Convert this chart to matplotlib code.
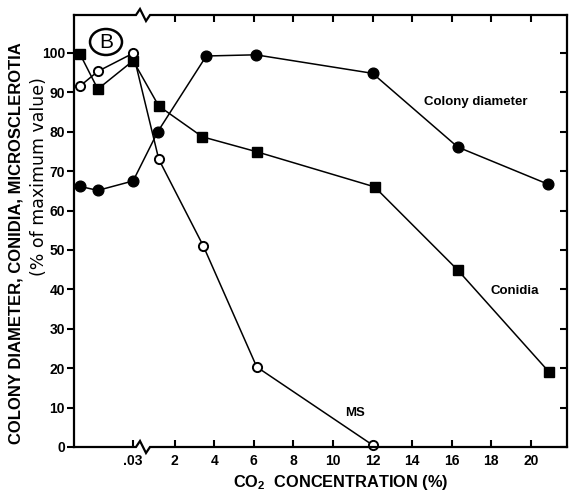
import numpy as np
import matplotlib
matplotlib.use('Agg')
import matplotlib.pyplot as plt
from matplotlib.patches import Ellipse

plt.rcParams['font.family'] = ['Liberation Sans', 'DejaVu Sans']
plt.rcParams['mathtext.fontset'] = 'custom'
plt.rcParams['mathtext.rm'] = 'Liberation Sans:bold'
plt.rcParams['mathtext.bf'] = 'Liberation Sans:bold'

# CO2 concentration (%) and responses (% of maximum value)
co2_colony = [0, 0.01, 0.03, 1.15, 3.6, 6.1, 12, 16.3, 20.85]
colony = [66.1, 65.1, 67.5, 80.0, 99.2, 99.5, 94.8, 76.1, 66.7]

co2_conidia = [0, 0.01, 0.03, 1.2, 3.4, 6.15, 12.1, 16.3, 20.9]
conidia = [99.6, 90.8, 98.0, 86.5, 78.7, 74.9, 66.0, 44.9, 19.1]

co2_ms = [0, 0.01, 0.03, 1.2, 3.45, 6.15, 12]
ms = [91.6, 95.3, 99.9, 73.0, 51.0, 20.3, 0.5]

xticks = [0.03, 2, 4, 6, 8, 10, 12, 14, 16, 18, 20]
xticklabels = ['.03', '2', '4', '6', '8', '10', '12', '14', '16', '18', '20']
yticks = list(range(0, 101, 10))

# broken axis: stretched low range (0-.03), compressed gap, then linear
_xs = [-1.0, 0.0, 0.03, 1.0, 100.0]
_us = [-91.9, -2.77, -0.096, 1.0, 100.0]


def fwd(x):
    return np.interp(x, _xs, _us)


def inv(u):
    return np.interp(u, _us, _xs)


XLIM = (-0.0035, 21.82)
YLIM = (0, 109.6)
W, H = 493.0, 432.0  # axes size in pixels

fig = plt.figure(figsize=(5.71, 4.95), dpi=100)
ax = fig.add_axes([74 / 571, 1 - 447 / 495, W / 571, H / 495])
ax.set_xscale('function', functions=(fwd, inv))
ax.set_xlim(*XLIM)
ax.set_ylim(*YLIM)

ax.plot(co2_colony, colony, '-o', color='black', lw=1.1, ms=7.7,
        mfc='black', mec='black', clip_on=False, zorder=3)
ax.plot(co2_conidia, conidia, '-s', color='black', lw=1.1, ms=7.6,
        mfc='black', mec='black', clip_on=False, zorder=3)
ax.plot(co2_ms, ms, '-o', color='black', lw=1.1, ms=6.6,
        mfc='white', mec='black', mew=1.4, clip_on=False, zorder=4)

ax.set_xticks(xticks)
ax.set_xticklabels(xticklabels)
ax.set_yticks(yticks)
ax.set_yticklabels([str(v) for v in yticks])
ax.minorticks_off()
ax.tick_params(axis='x', direction='in', length=5, width=1.5, pad=5,
               labelsize=10)
ax.tick_params(axis='y', direction='out', length=5, width=1.5, pad=1.5,
               labelsize=10)
for lab in ax.get_xticklabels() + ax.get_yticklabels():
    lab.set_fontweight('bold')

# top ticks (inward, none at .03) and right ticks (inward)
ax.vlines(xticks[1:], 1 - 7 / H, 1, transform=ax.get_xaxis_transform(),
          colors='black', lw=1.5, clip_on=False, zorder=6)
ax.hlines(yticks, 1 - 7 / W, 1, transform=ax.get_yaxis_transform(),
          colors='black', lw=1.5, clip_on=False, zorder=6)

for s in ['left', 'right']:
    ax.spines[s].set_linewidth(1.6)
ax.spines['top'].set_visible(False)
ax.spines['bottom'].set_visible(False)

# horizontal spines with zig-zag break
px = (np.array([74, 136, 140, 146, 150, 567]) - 74) / W
py = np.array([0, 0, 6, -6, 0, 0]) / H
for y0 in (0, 1):
    ax.plot(px, y0 + py, color='black', lw=1.6, transform=ax.transAxes,
            clip_on=False, solid_joinstyle='miter', zorder=5)

# series labels
ax.text(17.2, 87.6, 'Colony diameter', ha='center', va='center',
        fontsize=9.5, fontweight='bold')
ax.text(19.2, 39.6, 'Conidia', ha='center', va='center',
        fontsize=9.5, fontweight='bold')
ax.text(11.1, 8.6, 'MS', ha='center', va='center',
        fontsize=9.5, fontweight='bold')

# panel letter
ax.add_patch(Ellipse(((106 - 74) / W, (447 - 42) / H), 32 / W, 26 / H,
                     transform=ax.transAxes, fill=False, lw=1.8,
                     color='black', clip_on=False))
ax.text((106 - 74) / W, (447 - 42) / H, 'B', transform=ax.transAxes,
        ha='center', va='center', fontsize=15)

fig.text(16 / 571, 1 - 243 / 495, 'COLONY DIAMETER, CONIDIA, MICROSCLEROTIA',
         rotation=90, ha='center', va='center', fontsize=12,
         fontweight='bold')
fig.text(39 / 571, 1 - 177 / 495, '(% of maximum value)', rotation=90,
         ha='center', va='center', fontsize=12.5, family='DejaVu Sans')
fig.text(341 / 571, 1 - 482 / 495, r'CO$_{2}$  CONCENTRATION (%)',
         ha='center', va='center', fontsize=11.8, fontweight='bold')

fig.savefig('out.png', dpi=100)
